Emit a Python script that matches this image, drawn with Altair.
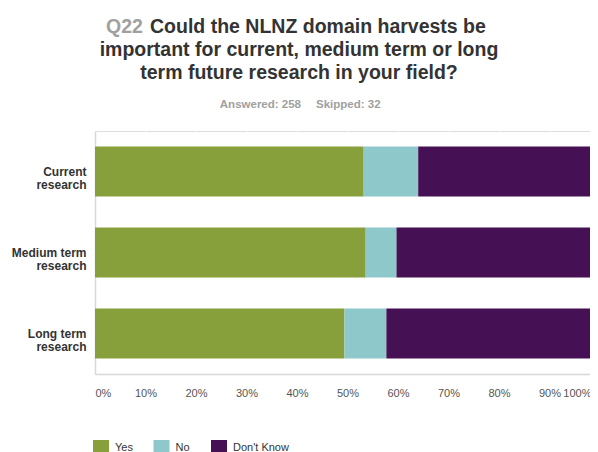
import altair as alt
import pandas as pd

# ---- data ----
categories = ["Current|research", "Medium term|research", "Long term|research"]
answers = ["Yes", "No", "Don't Know"]
yes_pct = [53.2, 53.6, 49.4]
no_pct = [10.8, 6.1, 8.3]
dont_know_pct = [36.0, 40.3, 42.3]
colors = ["#87A03C", "#8EC8CB", "#461055"]
x_ticks = [0, 10, 20, 30, 40, 50, 60, 70, 80, 90, 100]

title_q = "Q22"
title_lines = [
    "Could the NLNZ domain harvests be",
    "important for current, medium term or long",
    "term future research in your field?",
]
answered = "Answered: 258"
skipped = "Skipped: 32"

rows = []
for i, cat in enumerate(categories):
    for j, (ans, vals) in enumerate(zip(answers, [yes_pct, no_pct, dont_know_pct])):
        rows.append({"category": cat, "answer": ans, "value": vals[i], "order": j})
df = pd.DataFrame(rows)

FONT = "Liberation Sans"

bars = alt.Chart(df).mark_bar().encode(
    x=alt.X(
        "value:Q",
        stack="zero",
        scale=alt.Scale(domain=[0, 100], nice=False),
        axis=alt.Axis(
            values=x_ticks,
            labelExpr="datum.value + '%'",
            title=None,
            ticks=False,
            labelPadding=13,
            labelFlush=False,
            labelAlign={
                "condition": [
                    {"test": "datum.value == 0", "value": "left"},
                    {"test": "datum.value == 100", "value": "right"},
                ],
                "value": "center",
            },
            labelOffset={
                "condition": {"test": "datum.value == 100", "value": -9},
                "value": 0,
            },
            labelFontSize=11,
            labelColor="#555555",
            grid=True,
            gridColor="#ffffff",
            gridWidth=1.5,
            domainColor="#d8d8d8",
            domainWidth=1.5,
        ),
    ),
    y=alt.Y(
        "category:N",
        sort=categories,
        scale=alt.Scale(paddingInner=0.38, paddingOuter=0.19),
        axis=alt.Axis(
            title=None,
            labelExpr="split(datum.label, '|')",
            ticks=False,
            labelPadding=9,
            labelFontSize=12,
            labelFontWeight="bold",
            labelColor="#333333",
            labelLineHeight=13,
            grid=False,
            domainColor="#d8d8d8",
            domainWidth=1.5,
        ),
    ),
    color=alt.Color(
        "answer:N",
        scale=alt.Scale(domain=answers, range=colors),
        legend=alt.Legend(
            title=None,
            orient="none",
            direction="horizontal",
            legendX=-2,
            legendY=309,
            symbolType="square",
            symbolSize=256,
            symbolStrokeWidth=0,
            symbolOpacity=1,
            labelOffset=6,
            gridAlign="none",
            columnPadding=20.5,
            labelFontSize=11,
            labelColor="#333333",
            labelFont=FONT,
        ),
    ),
    order=alt.Order("order:Q"),
)


def text_layer(txt, x, y, align, color, size):
    return alt.Chart(pd.DataFrame({"t": [txt]})).mark_text(
        align=align,
        baseline="alphabetic",
        font=FONT,
        fontWeight="bold",
        fontSize=size,
        color=color,
    ).encode(x=alt.value(x), y=alt.value(y), text="t:N")


texts = [
    text_layer(title_q, 11, -98, "left", "#a0a0a0", 19.5),
    text_layer(title_lines[0], 55, -98, "left", "#333333", 19.5),
    text_layer(title_lines[1], 204, -75, "center", "#333333", 19.5),
    text_layer(title_lines[2], 204, -52, "center", "#333333", 19.5),
    text_layer(answered, 206, -23, "right", "#a0a0a0", 11.5),
    text_layer(skipped, 221, -23, "left", "#a0a0a0", 11.5),
]

chart = alt.layer(bars, *texts).properties(
    width=505,
    height=243,
    padding={"left": 87, "top": 123, "right": -10, "bottom": 78},
    autosize=alt.AutoSizeParams(type="none"),
).configure_view(
    fill="#efefef", stroke=None
).configure_axis(
    labelFont=FONT
).configure(background="#ffffff")

chart.save("out.html", embed_options={"renderer": "svg", "actions": False})
